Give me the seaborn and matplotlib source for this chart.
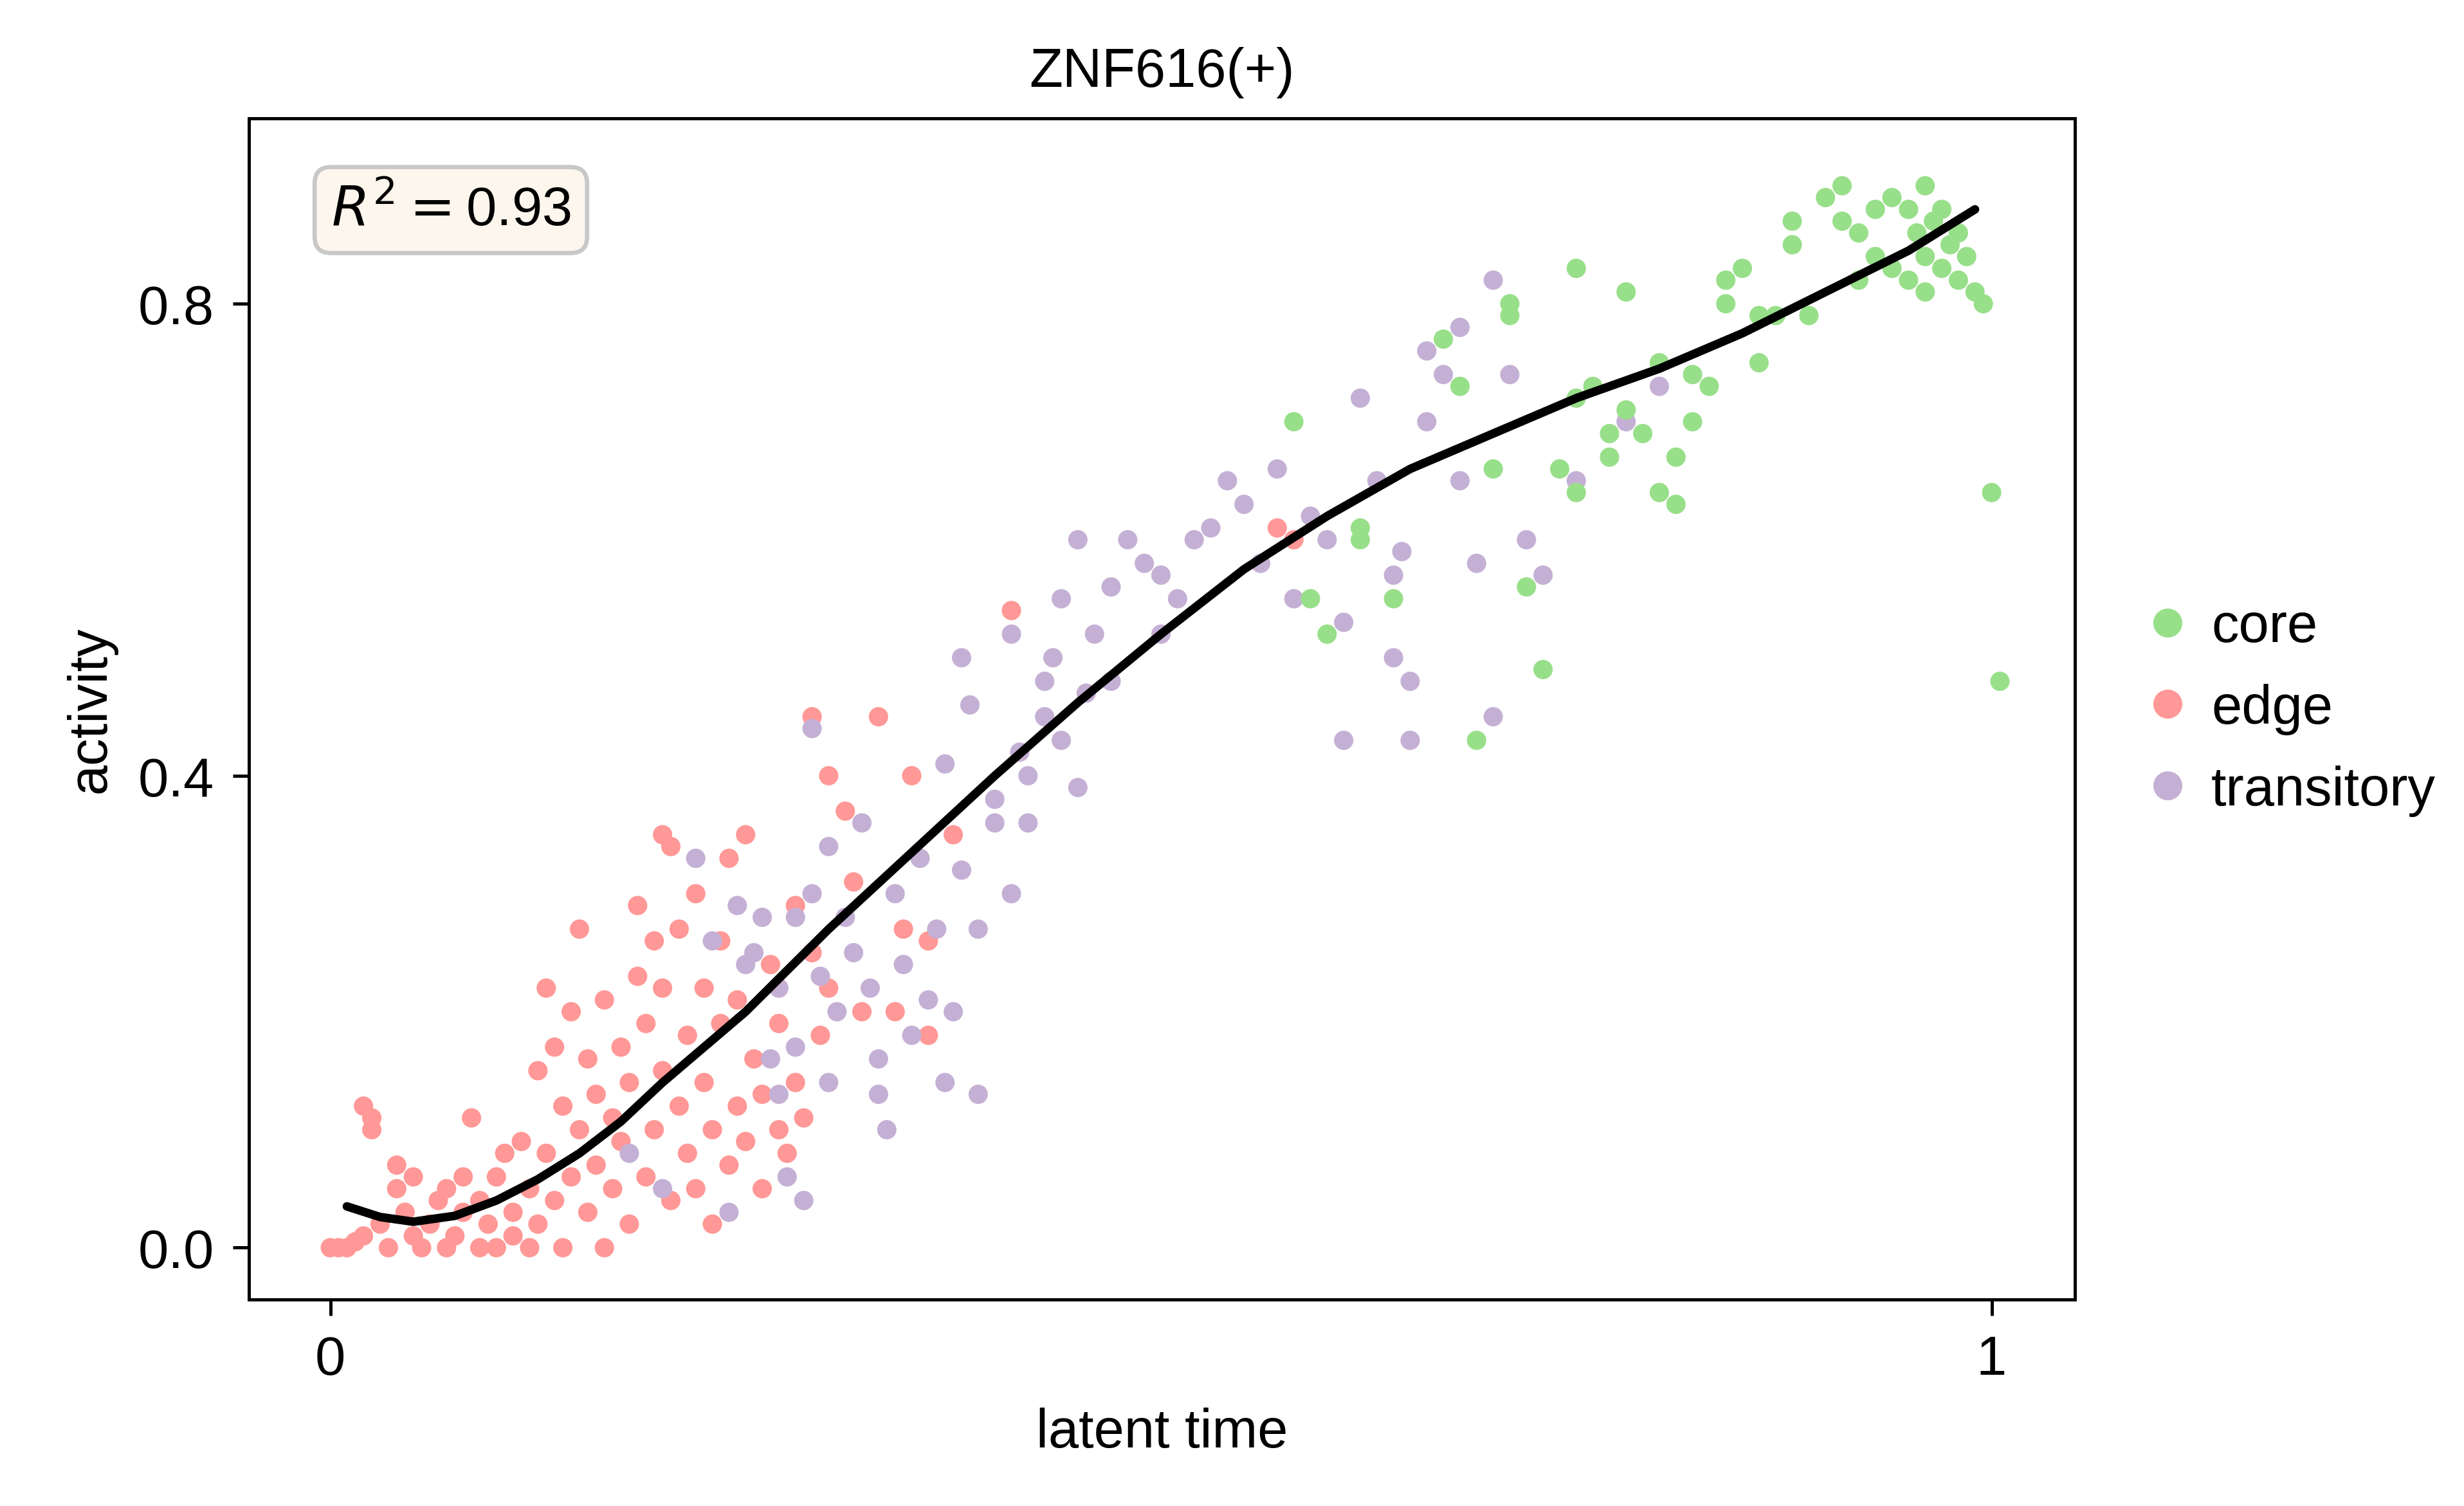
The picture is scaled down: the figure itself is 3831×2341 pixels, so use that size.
import numpy as np
import pandas as pd
import matplotlib
matplotlib.use("Agg")
import matplotlib.pyplot as plt
import seaborn as sns

edge_x = [0,0.005,0.01,0.015,0.02,0.02,0.025,0.025,0.03,0.035,0.04,0.04,0.045,0.05,0.05,0.055,0.06,0.065,0.07,0.07,0.075,0.08,0.08,0.085,0.09,0.09,0.095,0.1,0.1,0.105,0.11,0.11,0.115,0.12,0.12,0.125,0.125,0.13,0.13,0.135,0.135,0.14,0.14,0.145,0.145,0.15,0.15,0.155,0.155,0.16,0.16,0.165,0.165,0.17,0.17,0.175,0.175,0.18,0.18,0.185,0.185,0.19,0.19,0.195,0.195,0.2,0.2,0.2,0.205,0.205,0.21,0.21,0.215,0.215,0.22,0.22,0.225,0.225,0.23,0.23,0.235,0.235,0.24,0.24,0.245,0.245,0.25,0.25,0.255,0.26,0.26,0.265,0.27,0.27,0.275,0.28,0.28,0.285,0.29,0.29,0.295,0.3,0.3,0.31,0.315,0.32,0.33,0.34,0.345,0.35,0.36,0.36,0.375,0.41,0.57,0.58]
edge_y = [0,0,0,0.005,0.01,0.12,0.11,0.1,0.02,0,0.05,0.07,0.03,0.01,0.06,0,0.02,0.04,0.0,0.05,0.01,0.03,0.06,0.11,0,0.04,0.02,0.06,0,0.08,0.03,0.01,0.09,0.05,0,0.15,0.02,0.22,0.08,0.04,0.17,0.12,0.0,0.2,0.06,0.27,0.1,0.03,0.16,0.13,0.07,0.0,0.21,0.05,0.11,0.09,0.17,0.02,0.14,0.29,0.23,0.06,0.19,0.26,0.1,0.35,0.22,0.15,0.34,0.04,0.12,0.27,0.08,0.18,0.3,0.05,0.14,0.22,0.1,0.02,0.19,0.26,0.07,0.33,0.12,0.21,0.35,0.09,0.16,0.13,0.05,0.24,0.1,0.19,0.08,0.14,0.29,0.11,0.45,0.25,0.18,0.4,0.22,0.37,0.31,0.2,0.45,0.2,0.27,0.4,0.18,0.26,0.35,0.54,0.61,0.60]

trans_x = [0.18,0.2,0.22,0.23,0.24,0.245,0.25,0.255,0.26,0.265,0.27,0.27,0.275,0.28,0.28,0.285,0.29,0.29,0.295,0.3,0.3,0.305,0.31,0.315,0.32,0.325,0.33,0.33,0.335,0.34,0.345,0.35,0.355,0.36,0.365,0.37,0.37,0.375,0.38,0.38,0.385,0.39,0.39,0.4,0.4,0.41,0.41,0.415,0.42,0.42,0.43,0.43,0.435,0.44,0.44,0.45,0.45,0.455,0.46,0.47,0.47,0.48,0.49,0.5,0.5,0.51,0.52,0.53,0.54,0.55,0.56,0.57,0.58,0.59,0.6,0.61,0.61,0.62,0.63,0.64,0.64,0.645,0.65,0.65,0.66,0.66,0.67,0.68,0.68,0.69,0.7,0.7,0.71,0.72,0.73,0.75,0.78,0.8]
trans_y = [0.08,0.05,0.33,0.26,0.03,0.29,0.24,0.25,0.28,0.16,0.22,0.13,0.06,0.28,0.17,0.04,0.3,0.44,0.23,0.14,0.34,0.2,0.28,0.25,0.36,0.22,0.16,0.13,0.1,0.3,0.24,0.18,0.33,0.21,0.27,0.41,0.14,0.2,0.5,0.32,0.46,0.27,0.13,0.36,0.38,0.3,0.52,0.42,0.4,0.36,0.45,0.48,0.5,0.55,0.43,0.39,0.6,0.47,0.52,0.56,0.48,0.6,0.58,0.57,0.52,0.55,0.6,0.61,0.65,0.63,0.58,0.66,0.55,0.62,0.6,0.53,0.43,0.72,0.65,0.57,0.5,0.59,0.43,0.48,0.76,0.7,0.74,0.78,0.65,0.58,0.45,0.82,0.74,0.6,0.57,0.65,0.7,0.73]

core_x = [0.58,0.59,0.6,0.62,0.62,0.64,0.67,0.68,0.69,0.7,0.71,0.71,0.72,0.73,0.74,0.75,0.75,0.75,0.76,0.77,0.77,0.78,0.78,0.79,0.8,0.8,0.81,0.81,0.82,0.82,0.83,0.84,0.84,0.85,0.86,0.86,0.87,0.88,0.88,0.89,0.9,0.91,0.91,0.92,0.93,0.93,0.94,0.94,0.95,0.95,0.955,0.96,0.96,0.965,0.97,0.97,0.975,0.98,0.98,0.985,0.99,0.995,1.0,1.005,0.96,0.92]
core_y = [0.7,0.55,0.52,0.61,0.6,0.55,0.77,0.73,0.43,0.66,0.8,0.79,0.56,0.49,0.66,0.64,0.83,0.72,0.73,0.69,0.67,0.81,0.71,0.69,0.75,0.64,0.63,0.67,0.74,0.7,0.73,0.8,0.82,0.83,0.75,0.79,0.79,0.85,0.87,0.79,0.89,0.9,0.87,0.86,0.88,0.84,0.89,0.83,0.82,0.88,0.86,0.84,0.81,0.87,0.83,0.88,0.85,0.86,0.82,0.84,0.81,0.8,0.64,0.48,0.9,0.82]

curve_x = [0.01,0.03,0.05,0.075,0.1,0.125,0.15,0.175,0.2,0.25,0.3,0.35,0.4,0.45,0.5,0.55,0.6,0.65,0.7,0.75,0.8,0.85,0.9,0.95,0.99]
curve_y = [0.035,0.026,0.022,0.027,0.04,0.058,0.08,0.107,0.14,0.20,0.27,0.335,0.40,0.462,0.52,0.575,0.62,0.66,0.69,0.72,0.745,0.775,0.81,0.845,0.88]

df = pd.DataFrame({
    "x": edge_x + trans_x + core_x,
    "y": edge_y + trans_y + core_y,
    "group": ["edge"] * len(edge_x) + ["transitory"] * len(trans_x) + ["core"] * len(core_x),
})

sns.set_style("white")
plt.rcParams["font.family"] = ["Liberation Sans", "DejaVu Sans"]
plt.rcParams["mathtext.fontset"] = "dejavusans"
for k in ["text.color", "axes.labelcolor", "xtick.color", "ytick.color"]:
    plt.rcParams[k] = "black"

fs = 10.2
fig = plt.figure(figsize=(6.385, 3.903), dpi=600)
ax = fig.add_axes([0.101, 0.137, 0.741, 0.784])
palette = {"core": "#98DF8A", "edge": "#FF9896", "transitory": "#C5B0D5"}
sns.scatterplot(data=df, x="x", y="y", hue="group", hue_order=["core", "edge", "transitory"],
                palette=palette, s=13, linewidth=0, ax=ax)
ax.plot(curve_x, curve_y, color="black", lw=1.6)

ax.set_xlim(-0.049, 1.05)
ax.set_ylim(-0.044, 0.957)
ax.set_xticks([0, 1])
ax.set_xticklabels(["0", "1"])
ax.set_yticks([0.0, 0.4, 0.8])
ax.set_yticklabels(["0.0", "0.4", "0.8"])
ax.tick_params(labelsize=fs, length=3, width=0.6, bottom=True, left=True)
for sp in ax.spines.values():
    sp.set_linewidth(0.6)
    sp.set_color("black")
ax.set_xlabel("latent time", fontsize=fs)
ax.set_ylabel("activity", fontsize=fs)
ax.set_title("ZNF616(+)", fontsize=fs)
ax.text(0.045, 0.945, r"$R^2 = $" + "0.93", transform=ax.transAxes, fontsize=fs, va="top", ha="left",
        bbox=dict(boxstyle="round,pad=0.3", facecolor="#FDF6EC", edgecolor="#C8C8C8", lw=0.8))

handles, labels = ax.get_legend_handles_labels()
ax.legend(handles=handles, labels=labels, loc="center left", bbox_to_anchor=(1.0, 0.5),
          frameon=False, fontsize=fs, markerscale=1.5, handletextpad=-0.2, labelspacing=0.55,
          borderaxespad=0.3)

fig.savefig("out.png", dpi=600)
